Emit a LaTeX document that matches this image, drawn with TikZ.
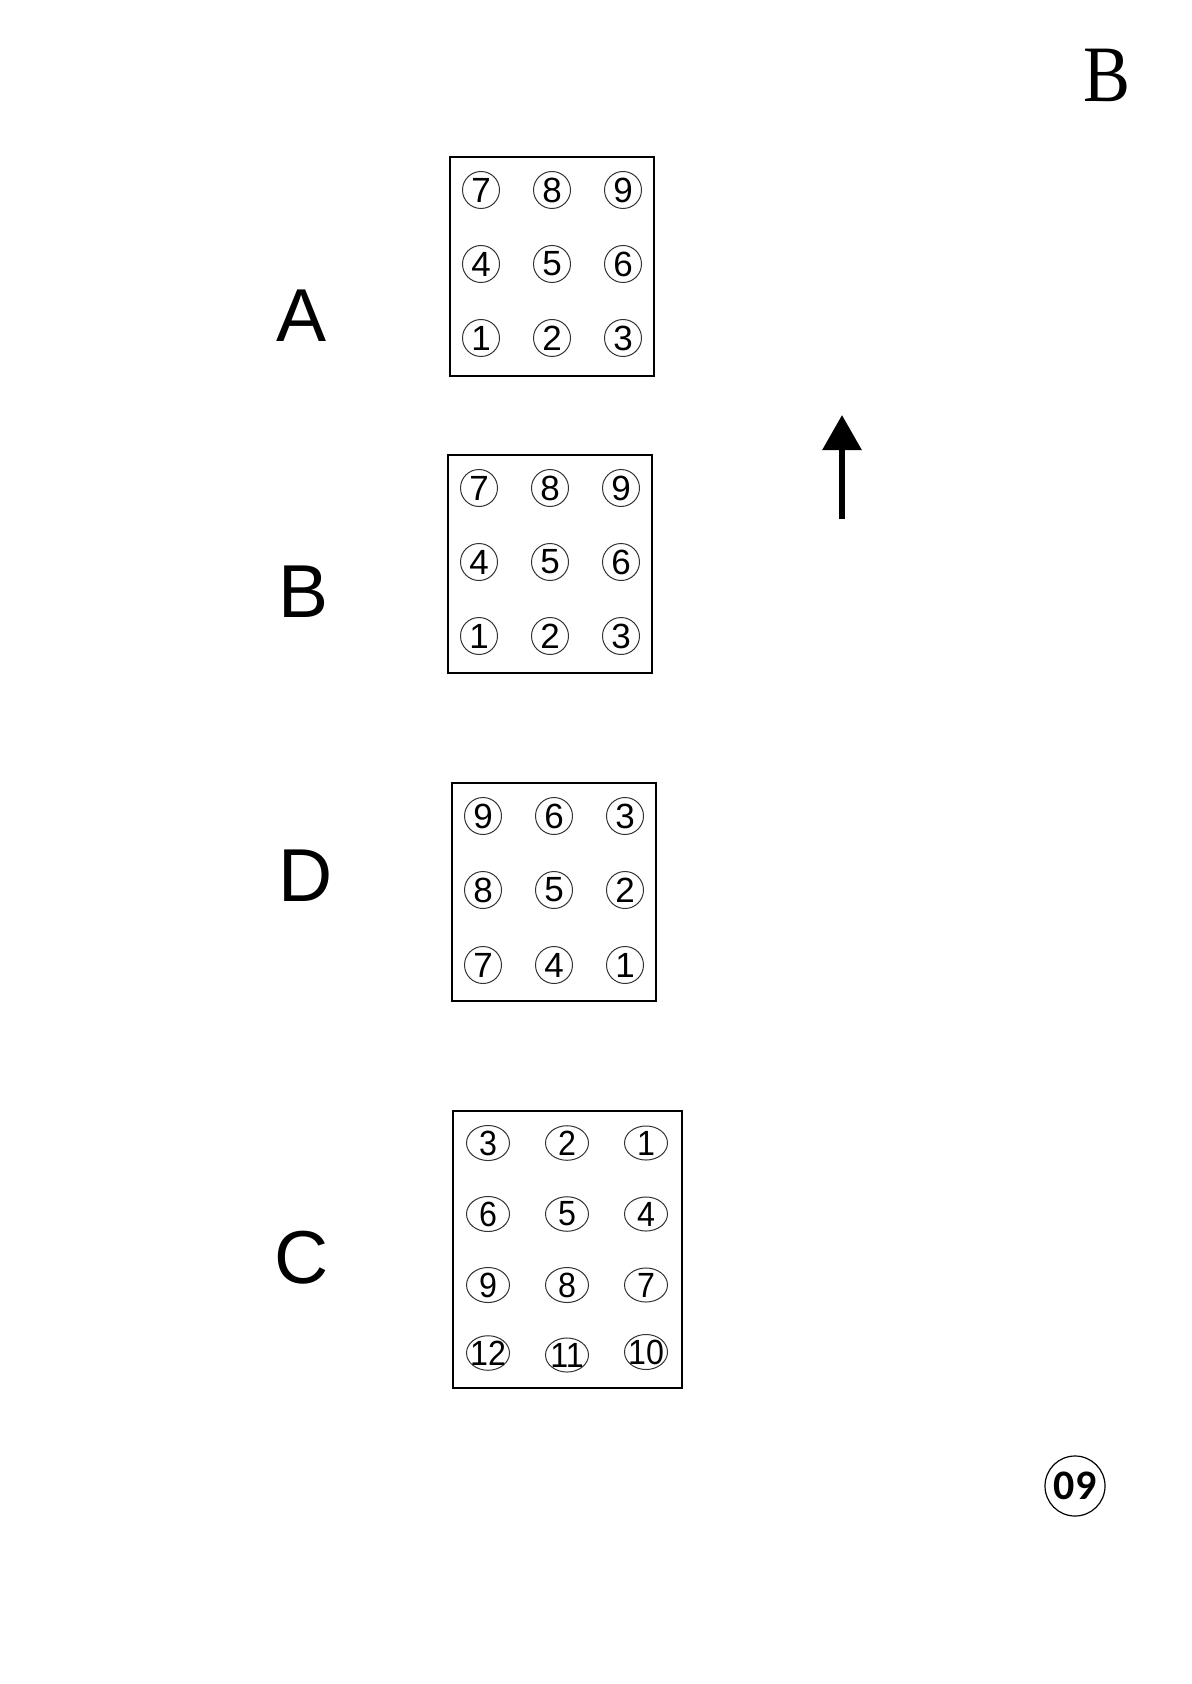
\documentclass[tikz,border=0pt]{standalone}
\usepackage{fontspec}
\setmainfont{Liberation Sans}
\newfontfamily\serifB{Liberation Serif}
\newfontfamily\calib{Carlito}
\usetikzlibrary{arrows.meta,shapes.geometric}
\tikzset{
  boxframe/.style={draw, line width=1pt, inner sep=0pt},
  num/.style={circle, draw=black!80, line width=0.5pt, inner sep=0pt, minimum size=18.5pt, font=\fontsize{17.5}{17.5}\selectfont},
  enum/.style={ellipse, draw=black!80, line width=0.5pt, inner sep=0pt, minimum width=21.5pt, minimum height=17pt, font=\fontsize{17.5}{17.5}\selectfont},
  biglabel/.style={font=\fontsize{37.5}{37.5}\selectfont, inner sep=0pt},
}
\newcommand{\fixw}[1]{\makebox[0pt]{\scalebox{0.92}[1]{#1}}}
\begin{document}
\begin{tikzpicture}[x=0.5pt,y=-0.5pt]
\useasboundingbox (0,0) rectangle (1191,1684);
% page letter and number
\node[font=\serifB\fontsize{40}{40}\selectfont, inner sep=0pt, xscale=0.88] (pageB) at (1107,75) {B};
\node[circle, draw, line width=0.6pt, minimum size=30pt, inner sep=0pt, font=\calib\bfseries\fontsize{21}{21}\selectfont] (pnum) at (1075,1486) {09};
% labels
\node[biglabel] (labA) at (302,316) {A};
\node[biglabel] (labB) at (304,592) {B};
\node[biglabel] (labD) at (306,876) {D};
\node[biglabel] (labC) at (302,1258) {C};
% boxes
\node[boxframe, minimum width=102pt, minimum height=109.5pt] (boxA) at (552,266.5) {};
\node[boxframe, minimum width=102pt, minimum height=109pt] (boxB) at (550,564) {};
\node[boxframe, minimum width=102pt, minimum height=109pt] (boxD) at (554,892) {};
\node[boxframe, minimum width=114.5pt, minimum height=138.5pt] (boxC) at (567.5,1249.5) {};
% box A
\foreach \n/\x/\y in {7/481/190, 8/552/190, 9/623/190, 4/481/264, 5/552/264, 6/623/264, 1/481/338, 2/552/338, 3/623/338}
  \node[num] (a\n) at (\x,\y) {\n};
% box B
\foreach \n/\x/\y in {7/479/488, 8/550/488, 9/621/488, 4/479/562, 5/550/562, 6/621/562, 1/479/636, 2/550/636, 3/621/636}
  \node[num] (b\n) at (\x,\y) {\n};
% box D
\foreach \n/\x/\y in {9/483/816, 6/554/816, 3/625/816, 8/483/890, 5/554/890, 2/625/890, 7/483/965, 4/554/965, 1/625/965}
  \node[num] (d\n) at (\x,\y) {\n};
% box C
\foreach \n/\x/\y in {3/488/1143, 2/567/1143, 1/646/1143, 6/488/1214, 5/567/1214, 4/646/1214, 9/488/1285, 8/567/1285, 7/646/1285, 12/488/1353, 11/567/1355, 10/646/1352}
  \node[enum] (c\n) at (\x,\y) {\fixw{\n}};
% arrow
\coordinate (arrS) at (842,519);
\coordinate (arrE) at (842,415);
\draw[line width=3pt, -{Triangle[width=19pt,length=17.5pt]}] (arrS) -- (arrE);
\end{tikzpicture}
\end{document}
